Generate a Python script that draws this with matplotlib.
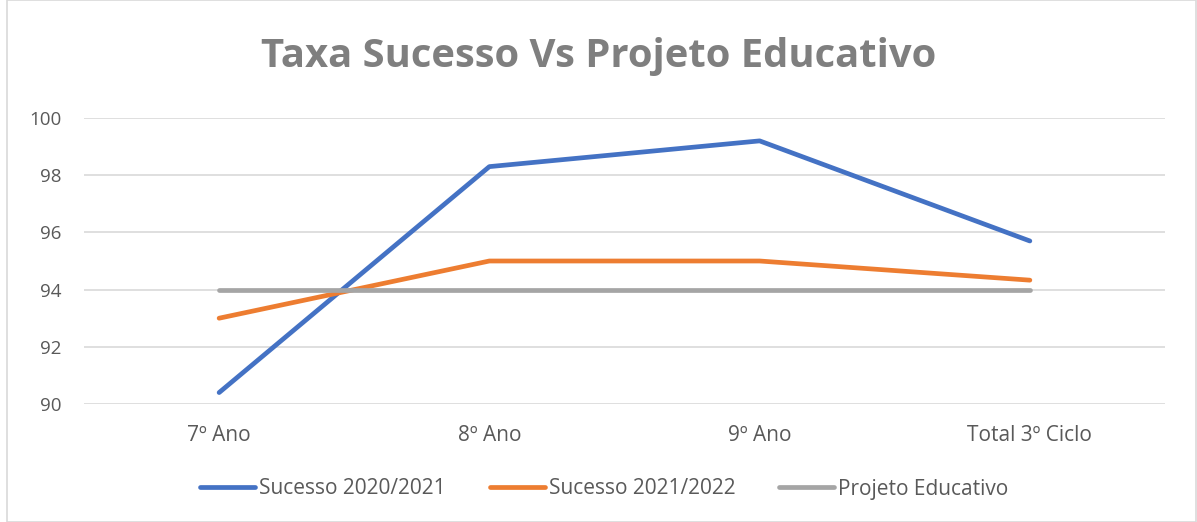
import matplotlib
matplotlib.use("Agg")
import matplotlib.pyplot as plt
from matplotlib.patches import Rectangle

categories = ["7º Ano", "8º Ano", "9º Ano", "Total 3º Ciclo"]
sucesso_2021 = [90.4, 98.3, 99.2, 95.7]
sucesso_2022 = [93.0, 95.0, 95.0, 94.33]
projeto = [94, 94, 94, 94]
series_names = ["Sucesso 2020/2021", "Sucesso 2021/2022", "Projeto Educativo"]
yticks = [90, 92, 94, 96, 98, 100]

plt.rcParams['font.family'] = ['Open Sans', 'DejaVu Sans']

fig = plt.figure(figsize=(11.97, 5.22), dpi=100)
ax = fig.add_axes([84/1197, 1-404/522, (1165-84)/1197, (404-118)/522])

x = [i + 0.5 for i in range(len(categories))]
colors = ["#4472C4", "#ED7D31", "#A5A5A5"]
for vals, name, c in zip([sucesso_2021, sucesso_2022, projeto], series_names, colors):
    ax.plot(x, vals, color=c, lw=3.4, solid_capstyle='round', solid_joinstyle='round', label=name, zorder=3)

ax.set_xlim(0, len(categories))
ax.set_ylim(90, 100)
ax.set_yticks(yticks)
ax.set_xticks(x)
ax.set_xticklabels(categories)
ax.grid(axis='y', color='#D9D9D9', lw=1.2)
ax.set_axisbelow(True)
for s in ax.spines.values():
    s.set_visible(False)
ax.tick_params(length=0, colors='#595959')
ax.tick_params(axis='y', pad=16, labelsize=13.5)
ax.tick_params(axis='x', pad=15, labelsize=15)

fig.text(0.5, 1-57/522, "Taxa Sucesso Vs Projeto Educativo", ha='center', va='center',
         fontsize=28.8, fontweight='bold', color='#7F7F7F')

leg = fig.legend(loc='center', bbox_to_anchor=(0.505, 1-489/522), ncol=3, frameon=False,
                 fontsize=15, handlelength=2.64, handletextpad=0.2, columnspacing=2.1)
for t in leg.get_texts():
    t.set_color('#595959')

fig.patches.append(Rectangle((7/1197, 0), 1-8/1197, 1, transform=fig.transFigure,
                             fill=False, edgecolor='#D9D9D9', lw=1.2))

fig.savefig("out.png", dpi=100, facecolor='white')
